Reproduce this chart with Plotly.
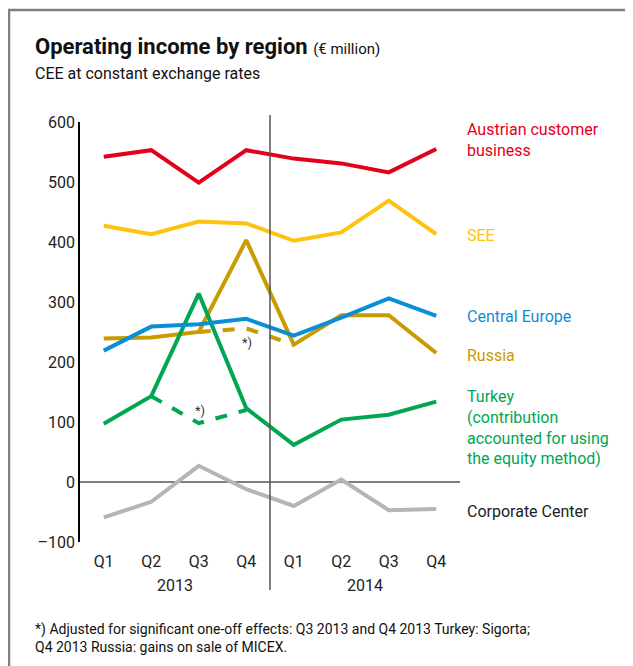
import plotly.graph_objects as go

quarters = ["Q1", "Q2", "Q3", "Q4", "Q1", "Q2", "Q3", "Q4"]
years = ["2013", "2014"]
austria = [542, 553, 499, 553, 539, 531, 516, 555]
see = [427, 413, 434, 431, 402, 416, 469, 413]
central_europe = [219, 259, 263, 272, 244, 274, 306, 277]
russia = [239, 241, 250, 403, 229, 278, 278, 215]
russia_adj = [250, 256, 229]  # Q3 2013 - Q1 2014
turkey = [97, 143, 314, 123, 62, 104, 112, 134]
turkey_adj = [143, 98, 120]  # Q2 2013 - Q4 2013
corporate = [-59, -33, 27, -12, -40, 4, -47, -45]

FONT = "Roboto, Arial, sans-serif"
RED = "#e3001b"
YELLOW = "#ffc20e"
GOLD = "#c89b00"
BLUE = "#0a8fd6"
GREEN = "#00a651"
GREY = "#b5b5b5"

# page body has an 8px margin, plot area should sit at x 80-460, y 122-542
def px_x(p):
    return (p - 80) / 380

def px_y(p):
    return (542 - p) / 420

x = list(range(len(quarters)))

fig = go.Figure()

def add_line(xs, ys, color, dash="solid"):
    fig.add_trace(go.Scatter(x=xs, y=ys, mode="lines",
                             line=dict(color=color, width=4, dash=dash),
                             hoverinfo="skip", showlegend=False))

add_line(x, corporate, GREY)
add_line(x[2:5], russia_adj, GOLD, "dash")
add_line(x, russia, GOLD)
add_line(x[1:4], turkey_adj, GREEN, "dash")
add_line(x, turkey, GREEN)
add_line(x, central_europe, BLUE)
add_line(x, see, YELLOW)
add_line(x, austria, RED)

# frame (top and left edges only), divider, zero line
frame = dict(color="#7f7f7f", width=2.5)
fig.add_shape(type="line", xref="paper", yref="paper",
              x0=px_x(8), x1=px_x(700), y0=px_y(10), y1=px_y(10), line=frame)
fig.add_shape(type="line", xref="paper", yref="paper",
              x0=px_x(9), x1=px_x(9), y0=px_y(10), y1=px_y(700), line=frame)
fig.add_shape(type="line", xref="paper", yref="paper",
              x0=0.5, x1=0.5, y0=px_y(590), y1=px_y(115),
              line=dict(color="#555555", width=1.5))
fig.add_shape(type="line", xref="paper", yref="y",
              x0=0, x1=1, y0=0, y1=0,
              line=dict(color="#000000", width=1), layer="below")

for xp, yr in [(0.25, years[0]), (0.75, years[1])]:
    fig.add_annotation(xref="paper", yref="paper", x=xp, y=px_y(585), text=yr,
                       showarrow=False, xanchor="center", yanchor="middle",
                       font=dict(family=FONT, size=16, color="#222"))

labels = [
    ("Austrian customer<br>business", 140, RED),
    ("SEE", 235, YELLOW),
    ("Central Europe", 316, BLUE),
    ("Russia", 355, GOLD),
    ("Turkey<br>(contribution<br>accounted for using<br>the equity method)", 427, GREEN),
    ("Corporate Center", 511, "#222222"),
]
for text, py, color in labels:
    fig.add_annotation(xref="paper", yref="paper", x=px_x(465), y=px_y(py),
                       text=text, showarrow=False, xanchor="left", yanchor="middle",
                       align="left", font=dict(family=FONT, size=16, color=color))

# footnote markers
fig.add_annotation(x=3.01, y=233, text="*)", showarrow=False,
                   font=dict(family=FONT, size=13, color="#333"))
fig.add_annotation(x=2.02, y=120, text="*)", showarrow=False,
                   font=dict(family=FONT, size=13, color="#333"))

# title block
fig.add_annotation(xref="paper", yref="paper", x=px_x(33), y=px_y(47),
                   text="<b>Operating income by region</b> <span style='font-size:15px'>(€ million)</span>",
                   showarrow=False, xanchor="left", yanchor="middle",
                   font=dict(family=FONT, size=22, color="#111"))
fig.add_annotation(xref="paper", yref="paper", x=px_x(33), y=px_y(74),
                   text="CEE at constant exchange rates", showarrow=False,
                   xanchor="left", yanchor="middle",
                   font=dict(family=FONT, size=16, color="#111"))
fig.add_annotation(xref="paper", yref="paper", x=px_x(33), y=px_y(638),
                   text="*) Adjusted for significant one-off effects: Q3 2013 and Q4 2013 Turkey: Sigorta;<br>"
                        "Q4 2013 Russia: gains on sale of MICEX.",
                   showarrow=False, xanchor="left", yanchor="middle", align="left",
                   font=dict(family=FONT, size=14, color="#111"))

fig.update_xaxes(range=[-0.5, 7.5], tickvals=x, ticktext=quarters,
                 showgrid=False, zeroline=False, showline=False, ticks="",
                 ticklabelstandoff=8,
                 tickfont=dict(family=FONT, size=16, color="#222"), fixedrange=True)
fig.update_yaxes(range=[-100, 600], tickvals=[-100, 0, 100, 200, 300, 400, 500, 600],
                 ticktext=["–100", "0", "100", "200", "300", "400", "500", "600"],
                 showgrid=False, zeroline=False, showline=True, linecolor="#000",
                 linewidth=1.5, ticks="", ticklabelstandoff=0,
                 tickfont=dict(family=FONT, size=16, color="#222"), fixedrange=True)

fig.update_layout(width=633, height=666, margin=dict(l=72, r=181, t=114, b=132),
                  paper_bgcolor="white", plot_bgcolor="white")

fig.write_html("out.html")
